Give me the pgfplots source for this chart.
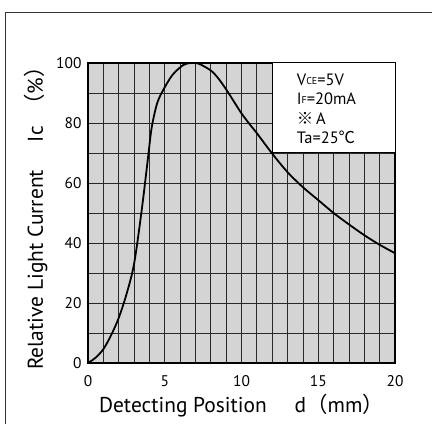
\documentclass[border=0pt]{standalone}
\usepackage{pgfplots}
\pgfplotsset{compat=1.18}
\usepackage{fontspec}
\setmainfont{PT Sans}
\newfontfamily\cjk{Noto Sans CJK JP}
\definecolor{gridbg}{RGB}{212,212,212}
\definecolor{gridln}{RGB}{40,40,40}
\begin{document}
\begin{tikzpicture}[x=1bp,y=1bp]
\path[use as bounding box] (0,0) rectangle (432,424);
\draw[line width=0.8bp, black!80] (5,0) -- (5,412) -- (432,412);
\begin{axis}[
  at={(88bp,61bp)}, anchor=south west,
  scale only axis, width=307bp, height=300bp,
  xmin=0, xmax=20, ymin=0, ymax=100,
  xtick={0,5,10,15,20}, ytick={0,20,40,60,80,100},
  minor xtick={0,1,...,20}, minor ytick={10,30,50,70,90},
  grid=both,
  major grid style={gridln, line width=0.8bp},
  minor grid style={gridln, line width=0.8bp},
  major tick length=0pt, minor tick length=0pt,
  axis background/.style={fill=gridbg},
  axis line style={black, line width=1.2bp},
  tick label style={font=\fontsize{15.5}{18}\selectfont},
  /pgf/number format/assume math mode=true,
  xticklabel style={yshift=-9bp},
  yticklabel style={xshift=-3bp},
  xlabel={Detecting Position\hspace{1.3em}d{\cjk （}mm{\cjk ）}},
  ylabel={Relative Light Current\hspace{1.3em}Ic\hspace{0.5em}{\cjk （}\%{\cjk ）}},
  label style={font=\fontsize{21.5}{24}\selectfont},
  xlabel style={yshift=-1bp},
  ylabel style={yshift=2bp},
]
\fill[white] (axis cs:12,70) rectangle (axis cs:20,100);
\draw[black, line width=1bp] (axis cs:12,100) -- (axis cs:12,70) -- (axis cs:20,70);
\addplot[black, line width=1.8bp, smooth] coordinates {
(0,0) (0.5,1.8) (1,4.6) (1.5,9.2) (2,15) (2.5,22.8) (3,33) (3.5,51)
(3.9,68) (4.15,78.5) (4.5,86.5) (4.9,91) (5.5,96) (6.2,99.3) (6.7,100)
(7.2,99.8) (8,97.5) (8.5,94.8) (9,91.2) (9.5,87.2) (10,83.2) (10.5,79.8)
(11,76.6) (12,69.8) (13,63.6) (14,58.6) (15,54.3) (16,50) (17,46.2)
(18,42.6) (19,39.4) (20,36.6)
};
\node[anchor=north west, align=left, font=\fontsize{16.5}{19.5}\selectfont, inner sep=0pt]
  at (axis cs:13.6,96.5) {%
  V\raisebox{0.1ex}{\fontsize{10}{11}\selectfont CE}=5V\\
  I\raisebox{0.1ex}{\fontsize{10}{11}\selectfont F}=20mA\\
  {\cjk ※}\,A\\
  Ta=25{\cjk ℃}};
\end{axis}
\end{tikzpicture}
\end{document}
